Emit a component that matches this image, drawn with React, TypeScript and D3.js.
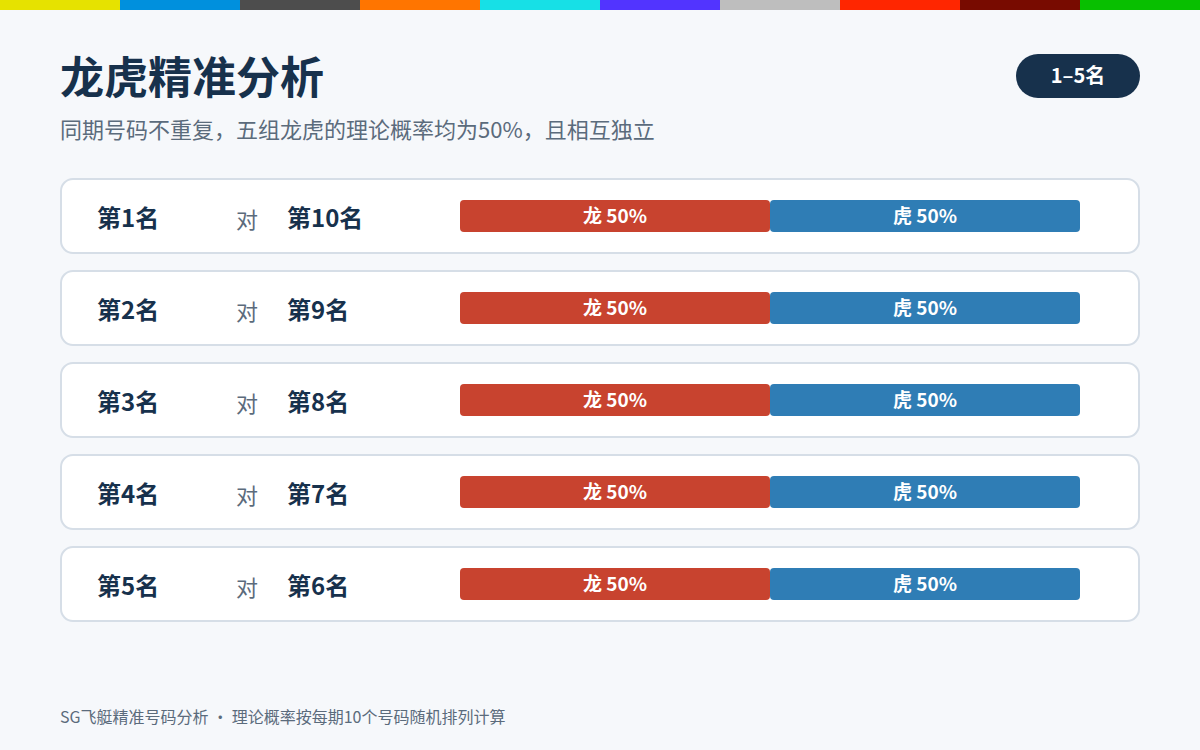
import React from "react";
import * as d3 from "d3";

const stripColors = ["#e6e200", "#0090dd", "#4d4d4d", "#ff7500", "#17e0e6", "#5234ff", "#bebebe", "#ff2600", "#780b00", "#08bf00"];
const leftRanks = ["第1名", "第2名", "第3名", "第4名", "第5名"];
const rightRanks = ["第10名", "第9名", "第8名", "第7名", "第6名"];
const dragonValues = [50, 50, 50, 50, 50];
const tigerValues = [50, 50, 50, 50, 50];

const W = 1200;
const H = 750;
const FONT = "'Noto Sans CJK SC', 'Noto Sans', sans-serif";

export default function App() {
  const stripX = d3.scaleBand<number>().domain(d3.range(stripColors.length)).range([0, W]).padding(0);
  const rowY = d3.scaleBand<number>().domain(d3.range(leftRanks.length)).range([178, 178 + 92 * 5 - 16]).paddingInner(16 / 92).paddingOuter(0);
  const barX = d3.scaleLinear().domain([0, 100]).range([460, 1080]);

  return (
    <svg width={W} height={H} style={{ position: "absolute", left: 0, top: 0 }} fontFamily={FONT}>
      <rect x={0} y={0} width={W} height={H} fill="#f6f8fb" />
      {stripColors.map((c, i) => (
        <rect key={i} x={stripX(i)} y={0} width={stripX.bandwidth() + 0.5} height={10} fill={c} />
      ))}
      <text x={60} y={94} fontSize={44} fontWeight={700} fill="#17314c">龙虎精准分析</text>
      <text x={60} y={138} fontSize={22} fill="#5b6b7c">同期号码不重复，五组龙虎的理论概率均为50%，且相互独立</text>

      <rect x={1016} y={54} width={124} height={44} rx={22} fill="#17314c" />
      <text x={1078} y={76} dy="0.35em" textAnchor="middle" fontSize={20} fontWeight={700} fill="#ffffff">1–5名</text>

      {leftRanks.map((l, i) => {
        const y0 = rowY(i) as number;
        const h = rowY.bandwidth();
        const cy = y0 + h / 2;
        const bx0 = barX(0);
        const bx1 = barX(dragonValues[i]);
        const bx2 = barX(dragonValues[i] + tigerValues[i]);
        return (
          <g key={i}>
            <rect x={61} y={y0 + 1} width={1078} height={h - 2} rx={12} fill="#ffffff" stroke="#d6dee7" strokeWidth={2} />
            <text x={97} y={cy + 3} dy="0.35em" fontSize={24} fontWeight={700} fill="#17314c">{l}</text>
            <text x={236} y={cy + 4} dy="0.35em" fontSize={22} fill="#5b6b7c">对</text>
            <text x={287} y={cy + 3} dy="0.35em" fontSize={24} fontWeight={700} fill="#17314c">{rightRanks[i]}</text>
            <rect x={bx0} y={cy - 16} width={bx1 - bx0} height={32} rx={4} fill="#c8432f" />
            <rect x={bx1} y={cy - 16} width={bx2 - bx1} height={32} rx={4} fill="#2f7db5" />
            <text x={(bx0 + bx1) / 2} y={cy} dy="0.35em" textAnchor="middle" fontSize={19} fontWeight={700} fill="#ffffff">{`龙 ${dragonValues[i]}%`}</text>
            <text x={(bx1 + bx2) / 2} y={cy} dy="0.35em" textAnchor="middle" fontSize={19} fontWeight={700} fill="#ffffff">{`虎 ${tigerValues[i]}%`}</text>
          </g>
        );
      })}

      <text x={60} y={723} fontSize={16} fill="#5b6b7c">SG飞艇精准号码分析 ・ 理论概率按每期10个号码随机排列计算</text>
    </svg>
  );
}
